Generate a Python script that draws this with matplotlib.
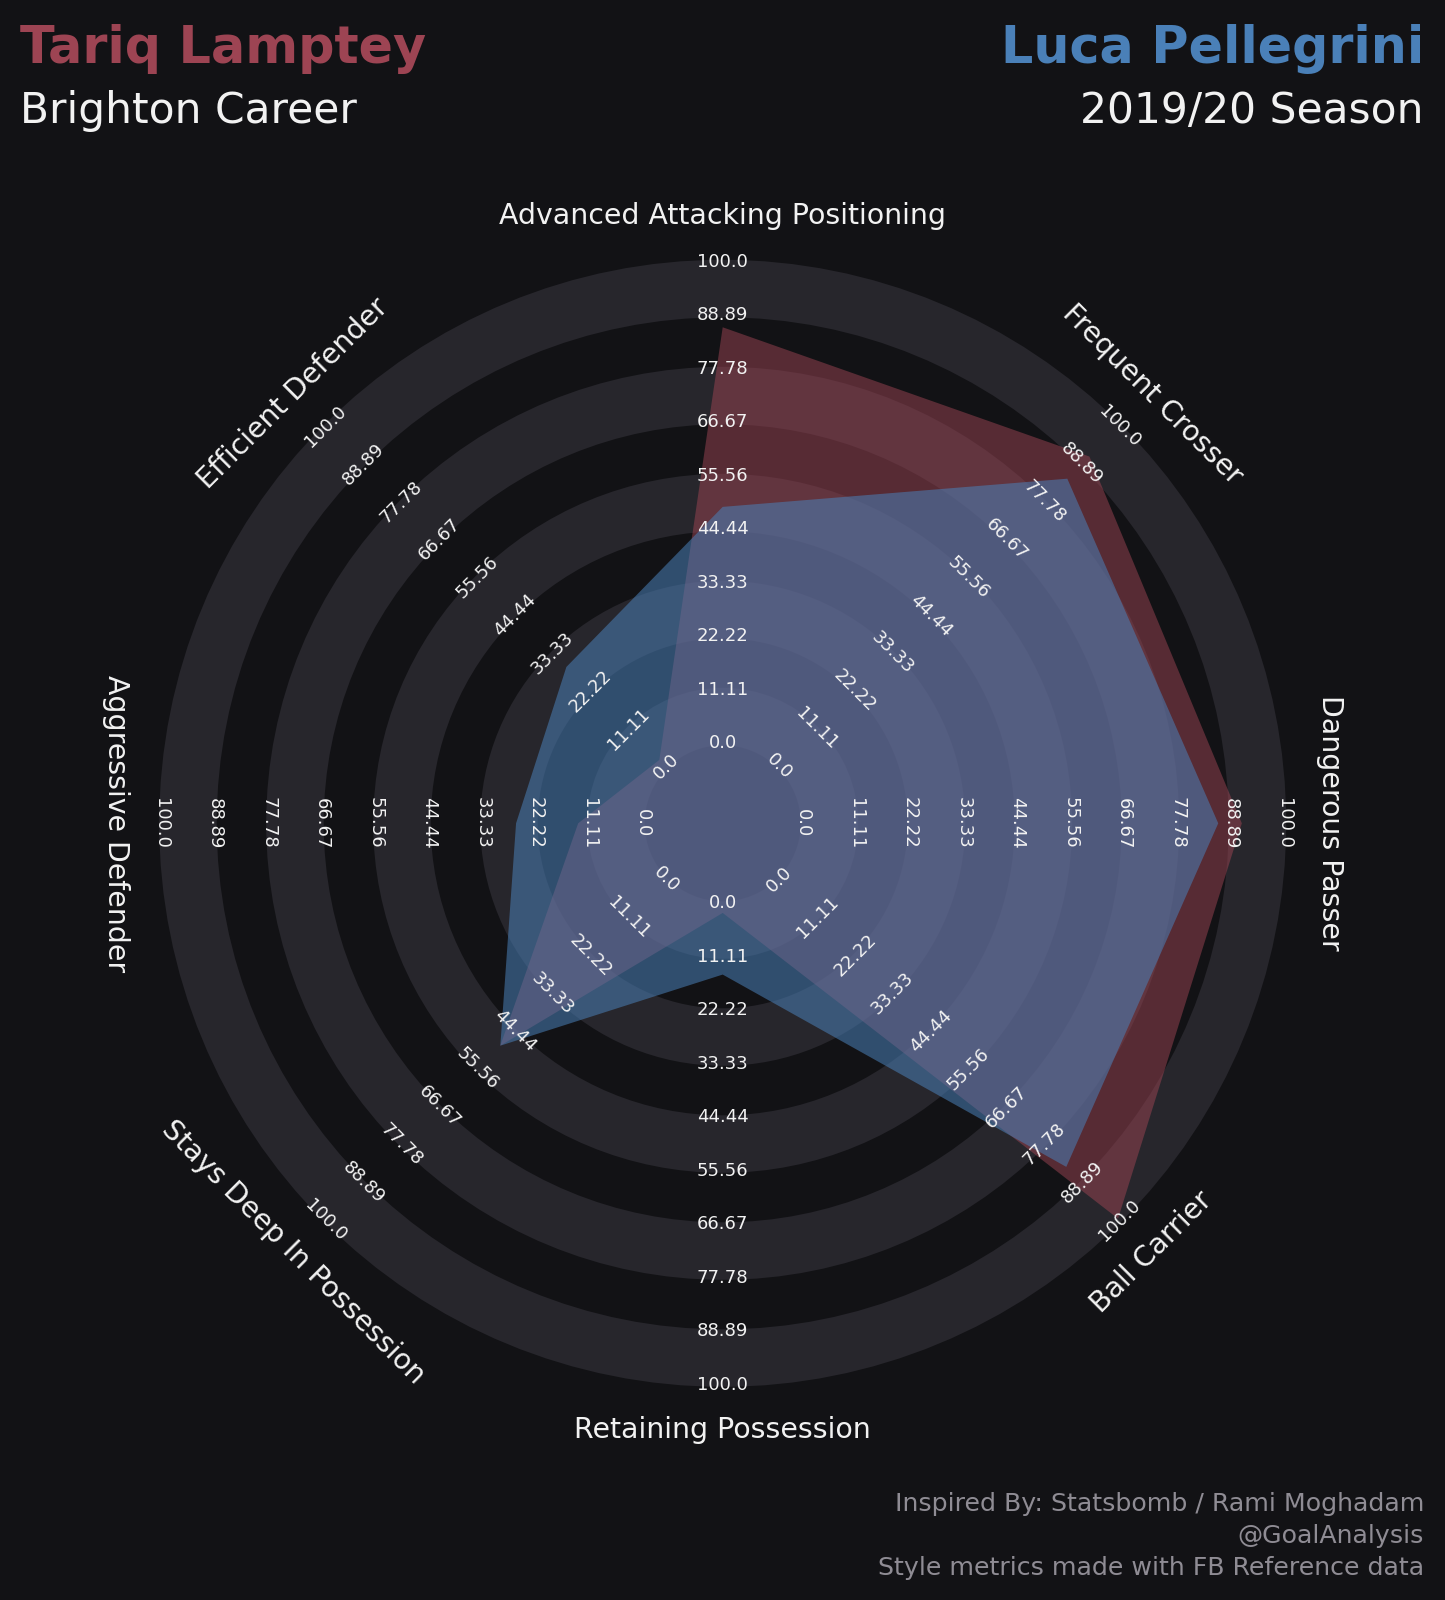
import numpy as np
import matplotlib
matplotlib.use("Agg")
import matplotlib.pyplot as plt
from matplotlib.patches import Circle, Polygon

# ---- data ----
params = ["Advanced Attacking Positioning", "Frequent Crosser", "Dangerous Passer",
          "Ball Carrier", "Retaining Possession", "Stays Deep In Possession",
          "Aggressive Defender", "Efficient Defender"]
lamptey = [86.4, 91.1, 91.2, 99.5, 2.0, 48.7, 13.4, 2.0]
pellegrini = [49.1, 84.6, 86.3, 84.3, 14.8, 48.7, 26.3, 29.3]
range_labels = ["0.0", "11.11", "22.22", "33.33", "44.44",
                "55.56", "66.67", "77.78", "88.89", "100.0"]
range_min, range_max = 0.0, 100.0

# ---- style ----
BG = "#121215"
PATCH = "#27262C"
RED = "#9D4453"
BLUE = "#4A80B8"
TXT = "#F2F2F2"
END = "#8F8C94"

W, H = 1445, 1600
cx, cy = 722.7, 823.3          # radar centre in pixels (from top-left)
r0, step = 80.0, 53.5          # radius of the first range label and spacing
n_rings = len(range_labels)
r_max = r0 + step * (n_rings - 1)


def radius(v):
    return r0 + (v - range_min) / (range_max - range_min) * (r_max - r0)


def text_rot(theta):
    rot = theta - 90
    return ((rot + 90) % 180) - 90


fig = plt.figure(figsize=(W / 100, H / 100), dpi=100, facecolor=BG)
ax = fig.add_axes([0, 0, 1, 1])
ax.set_facecolor(BG)
ax.set_xlim(-cx, W - cx)
ax.set_ylim(-(H - cy), cy)
ax.set_aspect("equal")
ax.axis("off")

# concentric rings, boundaries at the range-label radii
radii = [r0 + step * i for i in range(n_rings)]
for i in range(n_rings - 1, -1, -1):
    if i % 2 == 1:
        ax.add_patch(Circle((0, 0), radii[i] + 2, fc=PATCH, ec="none", zorder=1))
    else:
        ax.add_patch(Circle((0, 0), radii[i] - 2, fc=BG, ec="none", zorder=1))

thetas = [90 - 45 * k for k in range(len(params))]


def poly_xy(values):
    pts = []
    for v, th in zip(values, thetas):
        r = radius(v)
        pts.append((r * np.cos(np.radians(th)), r * np.sin(np.radians(th))))
    return pts


ax.add_patch(Polygon(poly_xy(lamptey), closed=True, fc=RED, ec="none", alpha=0.5, zorder=2))
ax.add_patch(Polygon(poly_xy(pellegrini), closed=True, fc=BLUE, ec="none", alpha=0.55, zorder=3))

# range labels along each axis
for th in thetas:
    rot = text_rot(th)
    for r, lab in zip(radii, range_labels):
        ax.text(r * np.cos(np.radians(th)), r * np.sin(np.radians(th)), lab,
                fontsize=13, color=TXT, ha="center", va="center",
                rotation=rot, rotation_mode="anchor", zorder=5)

# parameter labels
label_r = 607
for th, p in zip(thetas, params):
    ax.text(label_r * np.cos(np.radians(th)), label_r * np.sin(np.radians(th)), p,
            fontsize=20.4, color=TXT, ha="center", va="center",
            rotation=text_rot(th), rotation_mode="anchor", zorder=5)

# titles
def px(x, y):
    return x - cx, cy - y

ax.text(*px(20, 63), "Tariq Lamptey", fontsize=36.5, fontweight="bold",
        color=RED, ha="left", va="baseline")
ax.text(*px(20, 123), "Brighton Career", fontsize=30.5, color=TXT,
        ha="left", va="baseline")
ax.text(*px(1424, 63), "Luca Pellegrini", fontsize=36.5, fontweight="bold",
        color=BLUE, ha="right", va="baseline")
ax.text(*px(1424, 123), "2019/20 Season", fontsize=30.5, color=TXT,
        ha="right", va="baseline")

# endnote
end_lines = ["Inspired By: Statsbomb / Rami Moghadam", "@GoalAnalysis",
             "Style metrics made with FB Reference data"]
for k, line in enumerate(end_lines):
    ax.text(*px(1424, 1511 + 32 * k), line, fontsize=18.2, color=END,
            ha="right", va="baseline")

fig.savefig("out.png", dpi=100, facecolor=BG)
